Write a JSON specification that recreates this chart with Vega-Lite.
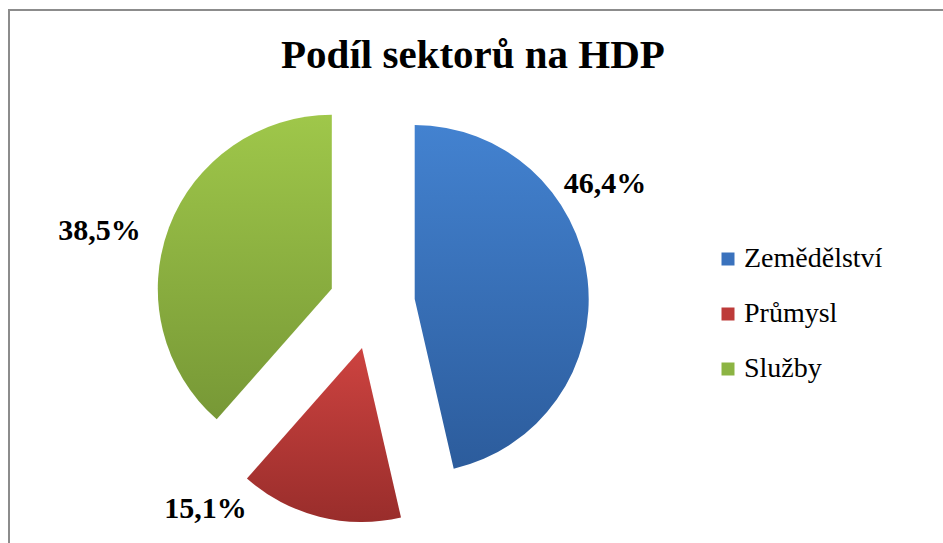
{
  "$schema": "https://vega.github.io/schema/vega-lite/v6.json",
  "width": 934,
  "height": 533,
  "autosize": {"type": "none"},
  "padding": {"left": 9, "top": 10, "right": 0, "bottom": 0},
  "background": "white",
  "title": {
    "text": "Podíl sektorů na HDP",
    "font": "Liberation Serif",
    "fontSize": 41,
    "fontWeight": "bold",
    "color": "#000000",
    "anchor": "middle",
    "frame": "group",
    "baseline": "alphabetic",
    "offset": -100,
    "dx": -3
  },
  "data": {
    "values": [
      {"Sektor": "Zemědělství", "podil": 0.464},
      {"Sektor": "Průmysl", "podil": 0.151},
      {"Sektor": "Služby", "podil": 0.385}
    ]
  },
  "transform": [{"stack": "podil", "groupby": [], "as": ["v0", "v1"]}],
  "layer": [
    {
      "data": {"values": [{"k": 1}]},
      "mark": {"type": "rect", "fill": null, "stroke": "#8c8c8c", "strokeWidth": 2, "strokeDash": [934, 1467, 533, 2000]},
      "encoding": {}
    },
    {
      "transform": [{"filter": "datum.Sektor === 'Zemědělství'"}],
      "mark": {
        "type": "arc", "radius": 174, "xOffset": -61.3, "yOffset": 22.6, "stroke": null,
        "fill": {"gradient": "linear", "x1": 0, "y1": 0, "x2": 0, "y2": 1,
          "stops": [{"offset": 0, "color": "#4382d0"}, {"offset": 1, "color": "#2c5c9c"}]}
      },
      "encoding": {
        "theta": {"field": "v0", "type": "quantitative", "scale": {"domain": [0, 1]}},
        "theta2": {"field": "v1"}
      }
    },
    {
      "transform": [{"filter": "datum.Sektor === 'Průmysl'"}],
      "mark": {
        "type": "arc", "radius": 174, "xOffset": -114, "yOffset": 71.5, "stroke": null,
        "fill": {"gradient": "linear", "x1": 0, "y1": 0, "x2": 0, "y2": 1,
          "stops": [{"offset": 0, "color": "#cd4340"}, {"offset": 1, "color": "#992d2b"}]}
      },
      "encoding": {
        "theta": {"field": "v0", "type": "quantitative", "scale": {"domain": [0, 1]}},
        "theta2": {"field": "v1"}
      }
    },
    {
      "transform": [{"filter": "datum.Sektor === 'Služby'"}],
      "mark": {
        "type": "arc", "radius": 174, "xOffset": -144.2, "yOffset": 12.3, "stroke": null,
        "fill": {"gradient": "linear", "x1": 0, "y1": 0, "x2": 0, "y2": 1,
          "stops": [{"offset": 0, "color": "#9fc74a"}, {"offset": 1, "color": "#779836"}]}
      },
      "encoding": {
        "theta": {"field": "v0", "type": "quantitative", "scale": {"domain": [0, 1]}},
        "theta2": {"field": "v1"}
      }
    },
    {
      "mark": {"type": "arc", "radius": 0, "stroke": null},
      "encoding": {
        "color": {
          "field": "Sektor", "type": "nominal",
          "scale": {"domain": ["Zemědělství", "Průmysl", "Služby"], "range": ["#3a72bd", "#bd3b39", "#8cb443"]},
          "legend": {
            "orient": "none", "legendX": 705, "legendY": 235, "title": null,
            "symbolType": "square", "symbolSize": 169, "symbolStrokeWidth": 0,
            "labelFont": "Liberation Serif", "labelFontSize": 28, "labelColor": "#000000",
            "rowPadding": 27, "labelOffset": 2, "padding": 0, "labelLimit": 300
          }
        }
      }
    },
    {
      "mark": {"type": "text", "radius": 174, "xOffset": -61.3, "yOffset": 22.6, "dx": 17.5, "dy": -95.6,
        "font": "Liberation Serif", "fontSize": 30, "fontWeight": "bold", "align": "center", "baseline": "middle", "color": "#000000"},
      "encoding": {
        "theta": {"field": "podil", "type": "quantitative", "stack": true, "scale": {"domain": [0, 1]}},
        "order": {"field": "v0", "type": "quantitative"},
        "text": {"condition": {"test": "datum.Sektor === 'Zemědělství'", "field": "podil", "type": "quantitative", "format": ".1%"}, "value": ""}
      }
    },
    {
      "mark": {"type": "text", "radius": 174, "xOffset": -114, "yOffset": 71.5, "dx": -113.8, "dy": -7.7,
        "font": "Liberation Serif", "fontSize": 30, "fontWeight": "bold", "align": "center", "baseline": "middle", "color": "#000000"},
      "encoding": {
        "theta": {"field": "podil", "type": "quantitative", "stack": true, "scale": {"domain": [0, 1]}},
        "order": {"field": "v0", "type": "quantitative"},
        "text": {"condition": {"test": "datum.Sektor === 'Průmysl'", "field": "podil", "type": "quantitative", "format": ".1%"}, "value": ""}
      }
    },
    {
      "mark": {"type": "text", "radius": 174, "xOffset": -144.2, "yOffset": 12.3, "dx": -69.5, "dy": 4,
        "font": "Liberation Serif", "fontSize": 30, "fontWeight": "bold", "align": "center", "baseline": "middle", "color": "#000000"},
      "encoding": {
        "theta": {"field": "podil", "type": "quantitative", "stack": true, "scale": {"domain": [0, 1]}},
        "order": {"field": "v0", "type": "quantitative"},
        "text": {"condition": {"test": "datum.Sektor === 'Služby'", "field": "podil", "type": "quantitative", "format": ".1%"}, "value": ""}
      }
    }
  ],
  "config": {
    "locale": {"number": {"decimal": ",", "thousands": " ", "grouping": [3], "currency": ["", " Kč"]}},
    "view": {"stroke": null}
  }
}
